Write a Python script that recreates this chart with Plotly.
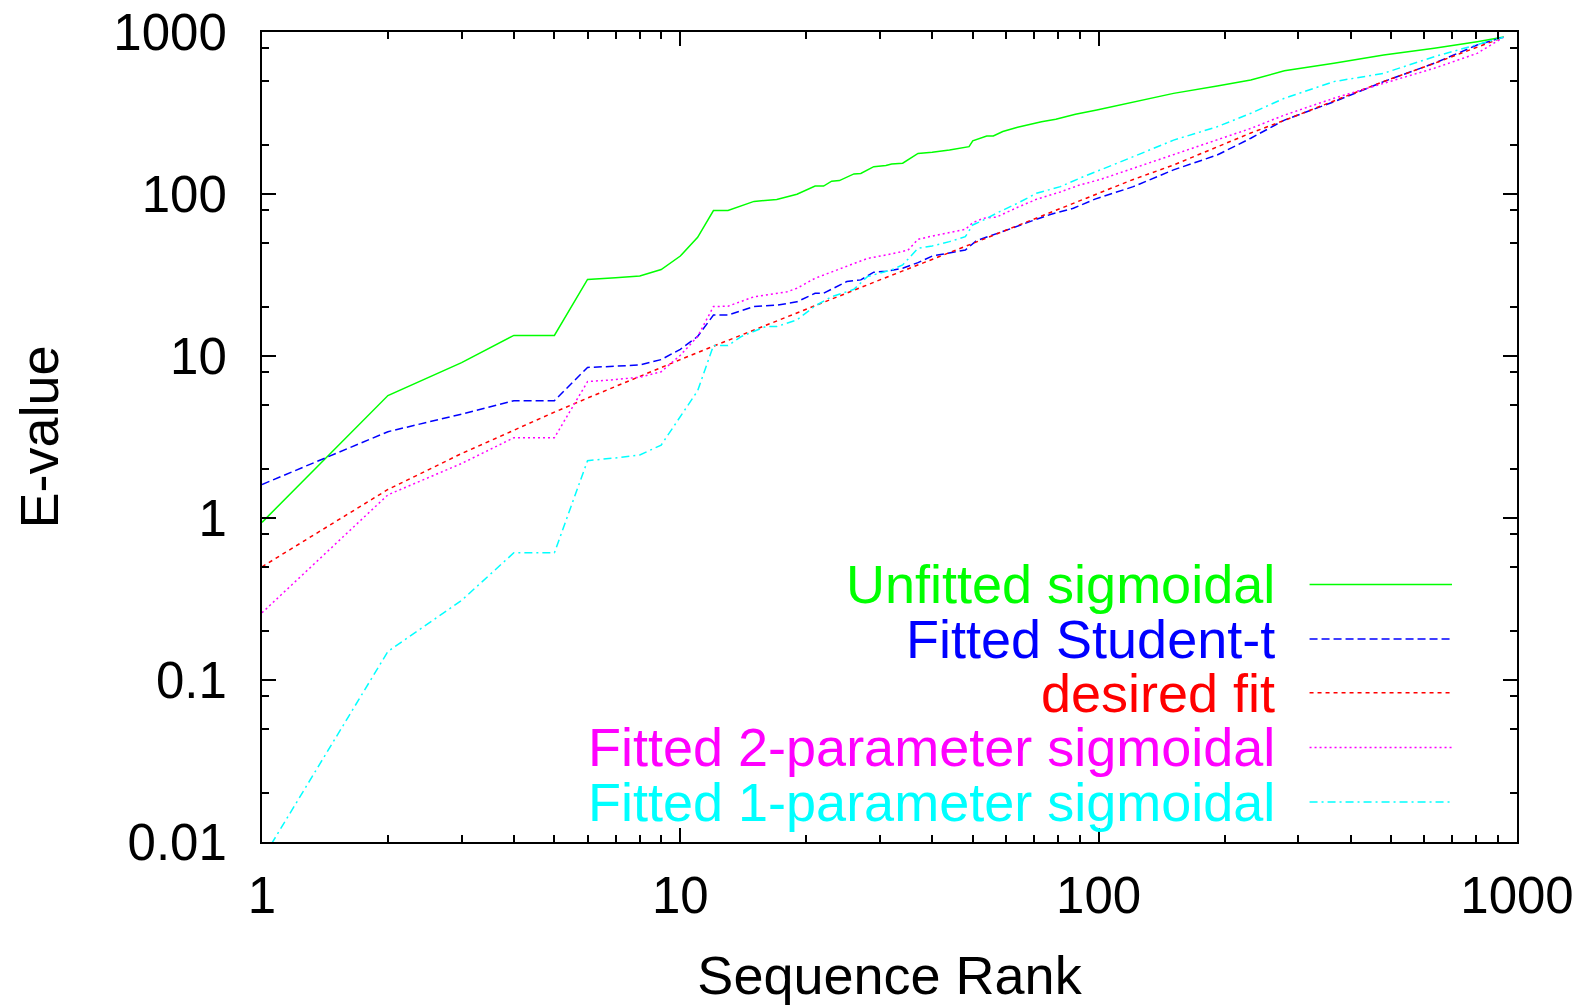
import plotly.graph_objects as go

# ---------------- data ----------------
green_rank = [1, 2, 3, 4, 5, 6, 7, 8, 9, 10, 11, 12, 13, 15, 17, 19, 21, 22, 23, 24, 26, 27, 29, 31, 32,
              34, 37, 40, 44, 49, 50, 54, 56, 59, 64, 73, 79, 88, 99, 121, 151, 192, 231, 278, 365,
              480, 634, 803, 930]
green_eval = [0.94, 5.7, 9.1, 13.4, 13.4, 29.7, 30.4, 31.2, 34.2, 41.4, 54, 79, 79, 90, 92.5, 99.6, 112,
              112, 120, 121, 133, 134, 147.5, 150, 153, 155, 178, 181, 187, 196, 213, 228, 228, 243,
              258, 279, 289, 311, 330, 371, 418, 464, 505, 577, 641, 721, 793, 871, 930]

blue_rank = [1, 2, 3, 4, 5, 6, 7, 8, 9, 10, 11, 12, 13, 15, 17, 19, 21, 22, 25, 27, 29, 31, 34, 37, 40,
             44, 48, 51, 56, 62, 69, 77, 87, 98, 121, 151, 192, 231, 278, 365, 480, 634, 803, 930]
blue_eval = [1.61, 3.41, 4.38, 5.3, 5.3, 8.5, 8.65, 8.8, 9.5, 11.0, 13.2, 17.9, 17.9, 20.2, 20.6, 21.6,
             24.4, 24.4, 28.8, 29.5, 32.9, 33.3, 34.8, 37.7, 41.4, 43.3, 45.1, 51.5, 55.8, 61.4, 68,
             75, 81.6, 93, 111, 141, 174, 221, 286, 371, 494, 641, 831, 930]

red_rank = [1, 2, 3, 4, 5, 6, 7, 8, 9, 10, 12, 15, 20, 30, 50, 77, 98, 121, 151, 192, 231, 278, 365,
            480, 634, 803, 930]
red_eval = [0.5, 1.5, 2.5, 3.5, 4.5, 5.5, 6.5, 7.5, 8.5, 9.5, 11.5, 14.5, 19.5, 29.5, 49.5, 77, 98,
            123, 151, 196, 238, 285, 375, 495, 640, 805, 930]

magenta_rank = [1, 2, 3, 4, 5, 6, 7, 8, 9, 10, 11, 12, 13, 15, 18, 19, 21, 22, 25, 28, 32, 35, 37, 40,
                48, 50, 53, 57, 64, 71, 81, 90, 101, 121, 151, 192, 231, 278, 365, 480, 634, 803, 930]
magenta_eval = [0.26, 1.39, 2.17, 3.13, 3.13, 6.95, 7.15, 7.4, 8.0, 10.1, 13.2, 20.2, 20.3, 23.2, 24.9,
                26.2, 30.2, 31.6, 35.6, 40, 42.7, 45, 52.5, 55, 60.5, 66.5, 70.8, 72, 82.8, 92.7, 103,
                113.6, 123, 144, 174, 215, 254, 307, 390, 482, 597, 738, 930]

cyan_rank = [1, 2, 3, 4, 5, 6, 7, 8, 9, 10, 11, 12, 13, 14, 16, 17, 19, 21, 23, 26, 28, 32, 34, 37, 40,
             44, 48, 50, 53, 58, 64, 71, 81, 90, 98, 121, 151, 192, 231, 278, 365, 480, 634, 803, 930]
cyan_eval = [0.0078, 0.15, 0.31, 0.61, 0.61, 2.26, 2.35, 2.45, 2.82, 4.2, 6.1, 11.6, 11.6, 13.2, 15.2,
             15.2, 16.7, 20.4, 23.2, 25.8, 30.9, 34, 36.5, 46.2, 47.8, 50.8, 54.5, 64.4, 69, 77.8,
             87.7, 101, 111, 125, 137, 170, 215, 260, 315, 390, 494, 556, 704, 831, 930]

series_names = ["Unfitted sigmoidal", "Fitted Student-t", "desired fit",
                "Fitted 2-parameter sigmoidal", "Fitted 1-parameter sigmoidal"]

x_tick_vals = [1, 10, 100, 1000]
x_tick_text = ["1", "10", "100", "1000"]
y_tick_vals = [0.01, 0.1, 1, 10, 100, 1000]
y_tick_text = ["0.01", "0.1", "1", "10", "100", "1000"]
x_minor = [m * 10 ** k for k in range(3) for m in range(2, 10)]
y_minor = [m * 10.0 ** k for k in range(-2, 3) for m in (2, 5, 8)]

# ---------------- styling ----------------
FONT = "Liberation Sans, Arial, sans-serif"
FS_TICK = 51
FS_TEXT = 54
colors = ["#00ff00", "#0000ff", "#ff0000", "#ff00ff", "#00ffff"]
dashes = ["solid", "8px,4px", "4px,4px", "2px,3px", "8px,4px,2px,4px"]

data = [(green_rank, green_eval), (blue_rank, blue_eval), (red_rank, red_eval),
        (magenta_rank, magenta_eval), (cyan_rank, cyan_eval)]

fig = go.Figure()
for (xs, ys), name, c, d in zip(data, series_names, colors, dashes):
    fig.add_trace(go.Scatter(x=xs, y=ys, mode="lines", name=name, showlegend=False,
                             line=dict(color=c, width=1.5, dash=d)))

# legend, gnuplot style: right-aligned text followed by line sample
leg_y = [0.318, 0.2506, 0.1842, 0.1168, 0.0494]
for name, c, d, yy in zip(series_names, colors, dashes, leg_y):
    fig.add_annotation(x=0.8088, y=yy, xref="paper", yref="paper", text=name, showarrow=False,
                       xanchor="right", yanchor="middle", font=dict(family=FONT, size=FS_TEXT, color=c))
    fig.add_shape(type="line", xref="paper", yref="paper", x0=0.8347, x1=0.9482, y0=yy, y1=yy,
                  line=dict(color=c, width=1.5, dash=d))

axis_common = dict(
    showline=True, linecolor="black", linewidth=2, mirror="ticks",
    ticks="inside", ticklen=14, tickwidth=2, tickcolor="black",
    showgrid=False, zeroline=False,
    tickfont=dict(family=FONT, size=FS_TICK, color="black"),
)

fig.update_xaxes(type="log", range=[0, 3], tickmode="array", tickvals=x_tick_vals,
                 ticktext=x_tick_text,
                 minor=dict(ticks="inside", ticklen=7, tickwidth=2, tickcolor="black",
                            tickmode="array", tickvals=x_minor, showgrid=False),
                 title=dict(text="Sequence Rank", font=dict(family=FONT, size=FS_TEXT, color="black"),
                            standoff=33),
                 ticklabelstandoff=8,
                 **axis_common)
fig.update_yaxes(type="log", range=[-2, 3], tickmode="array", tickvals=y_tick_vals,
                 ticktext=y_tick_text,
                 minor=dict(ticks="inside", ticklen=7, tickwidth=2, tickcolor="black",
                            tickmode="array", tickvals=y_minor, showgrid=False),
                 title=dict(text="E-value", font=dict(family=FONT, size=FS_TEXT, color="black"),
                            standoff=37),
                 ticklabelstandoff=23,
                 **axis_common)

fig.update_layout(
    width=1588, height=1005,
    margin=dict(l=262, r=71, t=32, b=163, autoexpand=False),
    paper_bgcolor="white", plot_bgcolor="white",
    font=dict(family=FONT, size=FS_TEXT, color="black"),
)

fig.write_html("out.html")
